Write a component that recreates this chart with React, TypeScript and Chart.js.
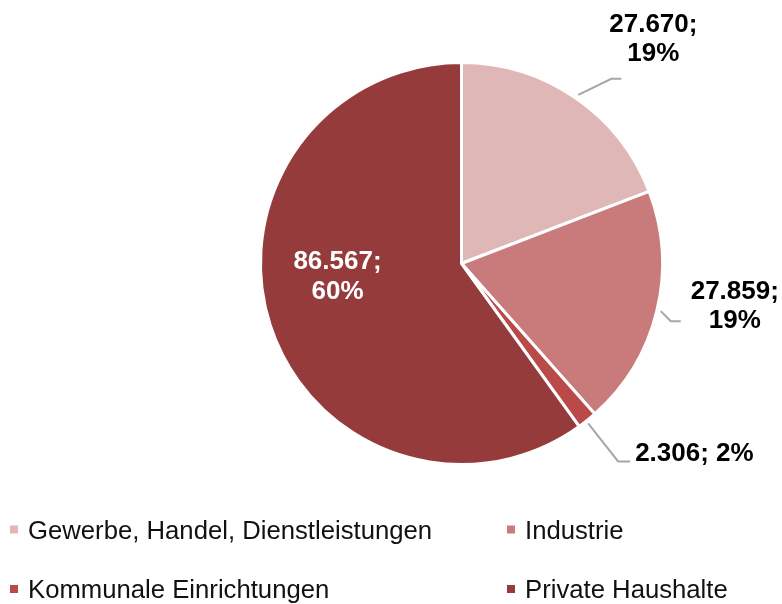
import React, { useEffect, useRef } from "react";
import { Chart, registerables } from "chart.js";

Chart.register(...registerables);

const categories = [
  "Gewerbe, Handel, Dienstleistungen",
  "Industrie",
  "Kommunale Einrichtungen",
  "Private Haushalte",
];
const values = [27670, 27859, 2306, 86567];
const percentLabels = ["19%", "19%", "2%", "60%"];
const colors = ["#DFB7B7", "#C97B7B", "#BA4A48", "#953B3B"];

const fmt = (v: number) => v.toLocaleString("de-DE");

const FONT = "'Liberation Sans', Arial, sans-serif";
const LABEL_SIZE = 26;
const LEGEND_SIZE = 25.7;

// label layout per slice (offsets relative to slice outer-edge midpoint, or pie center for inside)
type LabelCfg = {
  inside: boolean;
  leader?: number[][];
  tx: number;
  ty: number[];
  align: CanvasTextAlign;
  oneLine?: boolean;
  color: string;
};
const labelCfg: LabelCfg[] = [
  { inside: false, leader: [[3, -3], [36, -19], [46, -19]], tx: 78, ty: [-75, -46], align: "center", color: "#000" },
  { inside: false, leader: [[4, 0], [14, 10], [24, 10]], tx: 78, ty: [-21, 8], align: "center", color: "#000" },
  { inside: false, leader: [[1, 3], [31, 41], [43, 41]], tx: 48, ty: [31], align: "left", oneLine: true, color: "#000" },
  { inside: true, tx: -124, ty: [-4, 26], align: "center", color: "#fff" },
];

const legendPos = [
  { x: 10, y: 529.5 },
  { x: 507, y: 529.5 },
  { x: 10, y: 589 },
  { x: 507, y: 589 },
];

const labelPlugin = {
  id: "customLabels",
  afterDraw(chart: any) {
    const ctx = chart.ctx;
    const meta = chart.getDatasetMeta(0);
    ctx.save();
    meta.data.forEach((arc: any, i: number) => {
      const p = arc.getProps(["x", "y", "startAngle", "endAngle", "outerRadius"], true);
      const mid = (p.startAngle + p.endAngle) / 2;
      const ex = p.x + Math.cos(mid) * p.outerRadius;
      const ey = p.y + Math.sin(mid) * p.outerRadius;
      const cfg = labelCfg[i];
      const bx = cfg.inside ? p.x : ex;
      const by = cfg.inside ? p.y : ey;
      if (cfg.leader) {
        ctx.beginPath();
        ctx.strokeStyle = "#A6A6A6";
        ctx.lineWidth = 2;
        cfg.leader.forEach((pt, k) => {
          if (k === 0) ctx.moveTo(ex + pt[0], ey + pt[1]);
          else ctx.lineTo(ex + pt[0], ey + pt[1]);
        });
        ctx.stroke();
      }
      ctx.font = `bold ${LABEL_SIZE}px ${FONT}`;
      ctx.fillStyle = cfg.color;
      ctx.textAlign = cfg.align;
      ctx.textBaseline = "alphabetic";
      const v = chart.data.datasets[0].data[i];
      const lines = cfg.oneLine
        ? [`${fmt(v)}; ${percentLabels[i]}`]
        : [`${fmt(v)};`, percentLabels[i]];
      lines.forEach((t, k) => {
        ctx.fillText(t, bx + cfg.tx, by + cfg.ty[k] + LABEL_SIZE * 0.36);
      });
    });

    // legend
    ctx.font = `${LEGEND_SIZE}px ${FONT}`;
    ctx.textAlign = "left";
    ctx.textBaseline = "alphabetic";
    chart.data.labels.forEach((lab: string, i: number) => {
      const lp = legendPos[i];
      ctx.fillStyle = chart.data.datasets[0].backgroundColor[i];
      ctx.fillRect(lp.x, lp.y - 4, 8, 8);
      ctx.fillStyle = "#111";
      ctx.fillText(lab, lp.x + 18, lp.y + LEGEND_SIZE * 0.36);
    });
    ctx.restore();
  },
};

export default function App() {
  const ref = useRef<HTMLCanvasElement>(null);
  useEffect(() => {
    if (!ref.current) return;
    const chart = new Chart(ref.current, {
      type: "pie",
      data: {
        labels: categories,
        datasets: [
          {
            data: values,
            backgroundColor: colors,
            borderColor: "#ffffff",
            borderWidth: 3,
          },
        ],
      },
      options: {
        responsive: false,
        animation: false,
        devicePixelRatio: 1,
        layout: { padding: { left: 259, right: 118, top: 61, bottom: 138 } },
        plugins: { legend: { display: false }, tooltip: { enabled: false } },
      },
      plugins: [labelPlugin],
    });
    return () => chart.destroy();
  }, []);
  return (
    <div style={{ position: "absolute", left: 0, top: 0, width: 782, height: 604, background: "#fff" }}>
      <canvas ref={ref} width={782} height={604} />
    </div>
  );
}
